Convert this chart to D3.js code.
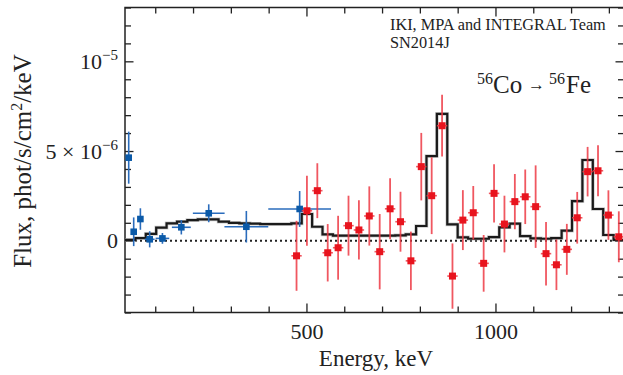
<!DOCTYPE html>
<html><head><meta charset="utf-8">
<script src="https://cdn.jsdelivr.net/npm/d3@7"></script>
<style>
body{margin:0;background:#fff}
text{font-family:"Liberation Serif","Times New Roman",serif;fill:#222}
</style>
</head><body>
<svg id="c" width="623" height="375"></svg>
<script>
// Model histogram: lower bin edges (keV) and model flux (1e-6 phot/s/cm2/keV)
const modelEdges = [20,47.5,75,102.5,130,157.5,185,212.5,240,267.5,295,322.5,350,377.5,405,432.5,
  460,487.5,515,542.5,570,597.5,625,652.5,680,707.5,735,762.5,790,817.5,845,872.5,
  900,927.5,955,982.5,1010,1037.5,1065,1092.5,1120,1147.5,1175,1202.5,1230,1257.5,1285,1312.5,1340];
const modelFlux = [0.05,0.15,0.38,0.73,0.97,1.06,1.15,1.19,1.19,1.06,1.0,0.97,0.95,0.93,0.93,0.93,
  0.97,1.49,0.78,0.35,0.28,0.28,0.28,0.28,0.28,0.28,0.30,0.36,0.82,4.72,7.07,0.91,
  0.19,0.11,0.11,0.20,0.75,0.95,0.26,0.13,0.11,0.15,0.56,2.21,4.50,1.77,0.32,0.04];

// Low-energy data (blue)
const lowE = [29.8,43,60.7,85.3,119,169,241.5,341,482];
const lowEErr = [3,3,3,13,18,25,42,58,83];
const lowFlux = [4.63,0.50,1.21,0.08,0.13,0.75,1.53,0.78,1.77];
const lowFluxErr = [1.45,0.80,0.60,0.45,0.30,0.40,0.50,0.88,1.00];

// High-energy data (red)
const highE = [473.75,501.25,528.75,556.25,583.75,611.25,638.75,666.25,693.75,721.25,748.75,776.25,
  803.75,831.25,858.75,886.25,913.75,941.25,968.75,996.25,1023.75,1051.25,1078.75,1106.25,
  1133.75,1161.25,1188.75,1216.25,1243.75,1271.25,1298.75,1326.25];
const highEErr = 13.75;
const highFlux = [-0.84,1.67,2.79,-0.67,-0.39,0.84,0.60,1.38,-0.61,1.78,1.06,-1.12,
  4.13,2.51,6.41,-1.97,1.15,1.56,-1.26,2.64,0.93,2.18,2.45,1.90,
  -0.72,-1.34,-0.48,1.28,3.85,3.90,1.43,0.22];
const highFluxErr = [1.95,1.95,1.53,1.60,1.78,1.67,1.65,1.65,2.10,1.70,1.67,1.63,
  1.88,2.14,1.72,1.82,1.67,1.49,1.58,1.63,1.58,1.54,1.52,2.30,
  1.77,1.41,1.42,1.44,1.38,1.42,1.38,1.42];

// Ticks
const xMajorTicks = [500,1000];
const xMajorLabels = ["500","1000"];
const xMinorTicks = [100,200,300,400,600,700,800,900,1100,1200,1300];
const yMajorTicks = [0,5,10];
const yMajorLabels = [["0",""],["5 \u00d7 10","\u22126"],["10","\u22125"]];
const yMinorTicks = [-4,-3,-2,-1,1,2,3,4,6,7,8,9,11,12,13];

const svg = d3.select("#c");
const L=125, R=624, T=7.5, B=312.5;
const x = d3.scaleLinear().domain([20,1340]).range([L,R]);
const y = d3.scaleLinear().domain([-4,13]).range([B,T]);

function styleAxis(g){ g.select(".domain").remove(); g.selectAll("line").attr("stroke","#222").attr("stroke-width",1.3); }
svg.append("g").attr("transform",`translate(0,${B})`)
  .call(d3.axisBottom(x).tickValues(xMinorTicks).tickSize(-6).tickFormat("")).call(styleAxis);
svg.append("g").attr("transform",`translate(0,${B})`)
  .call(d3.axisBottom(x).tickValues(xMajorTicks).tickSize(-9).tickPadding(11)
    .tickFormat((d,i)=>xMajorLabels[i])).call(styleAxis)
  .selectAll("text").attr("font-size",22).attr("fill","#222").style("font-family","Liberation Serif");
svg.append("g").attr("transform",`translate(0,${T})`)
  .call(d3.axisTop(x).tickValues(xMinorTicks).tickSize(-6).tickFormat("")).call(styleAxis);
svg.append("g").attr("transform",`translate(0,${T})`)
  .call(d3.axisTop(x).tickValues(xMajorTicks).tickSize(-9).tickFormat("")).call(styleAxis);

svg.append("g").attr("transform",`translate(${L},0)`)
  .call(d3.axisLeft(y).tickValues(yMinorTicks).tickSize(-6).tickFormat("")).call(styleAxis);
const yl = svg.append("g").attr("transform",`translate(${L},0)`)
  .call(d3.axisLeft(y).tickValues(yMajorTicks).tickSize(-8.5).tickPadding(7).tickFormat("")).call(styleAxis);
yl.selectAll(".tick text").each(function(d,i){
  const t = d3.select(this).attr("font-size",22).attr("fill","#222").style("font-family","Liberation Serif");
  t.append("tspan").text(yMajorLabels[i][0]);
  if (yMajorLabels[i][1]) t.append("tspan").attr("font-size",15).attr("dy",-8.5).text(yMajorLabels[i][1]);
});
svg.append("g").attr("transform",`translate(${R},0)`)
  .call(d3.axisRight(y).tickValues(yMinorTicks).tickSize(-6).tickFormat("")).call(styleAxis);
svg.append("g").attr("transform",`translate(${R},0)`)
  .call(d3.axisRight(y).tickValues(yMajorTicks).tickSize(-8.5).tickFormat("")).call(styleAxis);

svg.append("rect").attr("x",L).attr("y",T).attr("width",R-L).attr("height",B-T)
  .attr("fill","none").attr("stroke","#222").attr("stroke-width",1.5);

svg.append("line").attr("x1",L).attr("x2",R).attr("y1",y(0)).attr("y2",y(0))
  .attr("stroke","#222").attr("stroke-width",2).attr("stroke-dasharray","2,3");

const modelPts = modelEdges.map((e,i)=>[e, modelFlux[Math.min(i,modelFlux.length-1)]]);
const line = d3.line().x(d=>x(d[0])).y(d=>y(d[1])).curve(d3.curveStepAfter);
svg.append("path").attr("d",line(modelPts)).attr("fill","none").attr("stroke","#aaa").attr("stroke-width",3.6).attr("opacity",0.6);
svg.append("path").attr("d",line(modelPts)).attr("fill","none").attr("stroke","#1a1a1a").attr("stroke-width",2.2);

const blue = svg.append("g");
lowE.forEach((e,i)=>{
  blue.append("line").attr("x1",x(e-lowEErr[i])).attr("x2",x(e+lowEErr[i])).attr("y1",y(lowFlux[i])).attr("y2",y(lowFlux[i]))
    .attr("stroke","#2a6cbc").attr("stroke-width",1.6);
  blue.append("line").attr("x1",x(e)).attr("x2",x(e)).attr("y1",y(lowFlux[i]-lowFluxErr[i])).attr("y2",y(lowFlux[i]+lowFluxErr[i]))
    .attr("stroke","#2a6cbc").attr("stroke-width",1.6);
  blue.append("rect").attr("x",x(e)-3.3).attr("y",y(lowFlux[i])-3.3).attr("width",6.6).attr("height",6.6).attr("fill","#0b5aa8");
});

const red = svg.append("g");
highE.forEach((e,i)=>{
  red.append("line").attr("x1",x(e-highEErr)).attr("x2",x(e+highEErr)).attr("y1",y(highFlux[i])).attr("y2",y(highFlux[i]))
    .attr("stroke","#ee3a45").attr("stroke-width",1.6).attr("opacity",0.85);
  red.append("line").attr("x1",x(e)).attr("x2",x(e)).attr("y1",y(highFlux[i]-highFluxErr[i])).attr("y2",y(highFlux[i]+highFluxErr[i]))
    .attr("stroke","#ee3a45").attr("stroke-width",1.8).attr("opacity",0.85);
  red.append("rect").attr("x",x(e)-3.5).attr("y",y(highFlux[i])-3.5).attr("width",7).attr("height",7).attr("fill","#e8141e");
});

svg.append("text").attr("x",376).attr("y",366).attr("text-anchor","middle").attr("font-size",23).text("Energy, keV");
const yt = svg.append("text").attr("transform","translate(31,161) rotate(-90)").attr("text-anchor","middle").attr("font-size",25);
yt.append("tspan").text("Flux, phot/s/cm");
yt.append("tspan").attr("font-size",16).attr("dy",-9).text("2");
yt.append("tspan").attr("dy",9).text("/keV");

svg.append("text").attr("x",390).attr("y",29.5).attr("font-size",16.3).attr("fill","#333").text("IKI, MPA and INTEGRAL Team");
svg.append("text").attr("x",390).attr("y",47.5).attr("font-size",16.3).attr("fill","#333").text("SN2014J");

const ann = svg.append("g");
ann.append("text").attr("x",477).attr("y",84).attr("font-size",16).text("56");
ann.append("text").attr("x",493).attr("y",93).attr("font-size",25).text("Co");
ann.append("text").attr("x",528).attr("y",90).attr("font-size",17).text("\u2192");
ann.append("text").attr("x",549).attr("y",84).attr("font-size",16).text("56");
ann.append("text").attr("x",566).attr("y",93).attr("font-size",25).text("Fe");
</script>
</body></html>
